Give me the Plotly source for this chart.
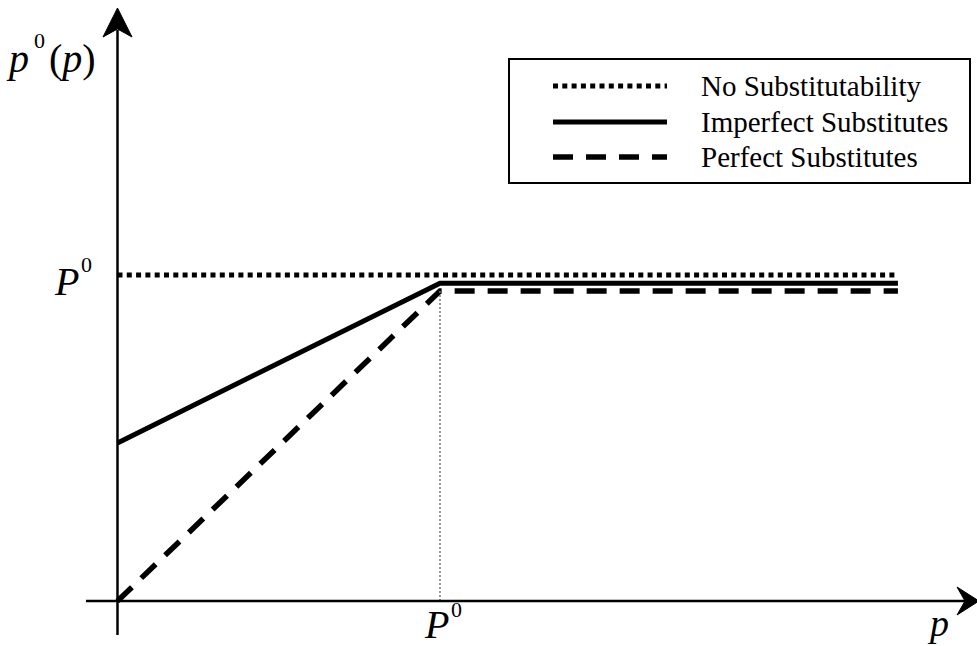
import plotly.graph_objects as go

# ---- data ----
series_names = ["No Substitutability", "Imperfect Substitutes", "Perfect Substitutes"]
no_sub_x = [0.0, 2.42]
no_sub_y = [1.0, 1.0]
imperfect_x = [0.0, 1.0, 2.42]
imperfect_y = [0.485, 0.975, 0.975]
perfect_x = [0.0, 1.0, 2.42]
perfect_y = [0.0, 0.951, 0.951]
p0_x = 1.0  # P^0 on the p axis

W, H = 977, 646
X_RANGE = [-0.3643, 2.6652]
Y_RANGE = [-0.1380, 1.8436]

FONT = "Liberation Serif, Times New Roman, serif"

def PX(px):  # pixel -> paper x
    return px / W

def PY(py):  # pixel -> paper y
    return 1 - py / H

fig = go.Figure()
fig.add_trace(go.Scatter(x=no_sub_x, y=no_sub_y, mode="lines", name=series_names[0],
                         line=dict(color="black", width=5, dash="5px,4.3px")))
fig.add_trace(go.Scatter(x=imperfect_x, y=imperfect_y, mode="lines", name=series_names[1],
                         line=dict(color="black", width=5)))
fig.add_trace(go.Scatter(x=perfect_x, y=perfect_y, mode="lines", name=series_names[2],
                         line=dict(color="black", width=5.5, dash="20px,13px")))

shapes = []
# vertical guide at P0
shapes.append(dict(type="line", xref="x", yref="y", x0=p0_x, x1=p0_x, y0=0, y1=perfect_y[1],
                   line=dict(color="#777777", width=1.5, dash="2px,2px")))
# axes
shapes.append(dict(type="line", xref="x", yref="paper", x0=0, x1=0, y0=PY(635), y1=PY(30),
                   line=dict(color="black", width=2.5)))
shapes.append(dict(type="line", xref="paper", yref="y", x0=PX(86), x1=PX(968), y0=0, y1=0,
                   line=dict(color="black", width=2.5)))
# arrow heads
up = [(117.5, 8), (103, 37), (117.5, 29), (132, 37)]
right = [(979, 601), (957, 587), (965, 601), (957, 615)]
for pts in (up, right):
    path = "M " + " L ".join(f"{PX(a):.5f},{PY(b):.5f}" for a, b in pts) + " Z"
    shapes.append(dict(type="path", xref="paper", yref="paper", path=path,
                       fillcolor="black", line=dict(color="black", width=1)))
# legend box
shapes.append(dict(type="rect", xref="paper", yref="paper", x0=PX(509), x1=PX(970),
                   y0=PY(183), y1=PY(59), line=dict(color="black", width=2), fillcolor="white",
                   layer="below"))
legend_rows = [86, 122, 157]
legend_styles = [dict(width=5, dash="5px,4.3px"), dict(width=5), dict(width=5.5, dash="20px,13px")]
for row, st in zip(legend_rows, legend_styles):
    shapes.append(dict(type="line", xref="paper", yref="paper", x0=PX(553), x1=PX(667),
                       y0=PY(row), y1=PY(row), line=dict(color="black", **st)))

annotations = []
for row, name in zip(legend_rows, series_names):
    annotations.append(dict(xref="paper", yref="paper", x=PX(699), y=PY(row), text=name,
                            showarrow=False, xanchor="left", yanchor="middle",
                            font=dict(family=FONT, size=29, color="black")))

def label(px, py, text, size, anchor="left"):
    annotations.append(dict(xref="paper", yref="paper", x=PX(px), y=PY(py), text=text,
                            showarrow=False, xanchor=anchor, yanchor="middle", borderpad=0,
                            font=dict(family=FONT, size=size, color="black")))

# y-axis title p^0(p)
label(5, 58, "<i>p</i>", 40)
label(33, 40, "0", 22)
label(48, 58, "(<i>p</i>)", 40)
# P^0 on y axis
label(53, 281, "<i>P</i>", 40)
label(80, 264, "0", 22)
# P^0 on x axis
label(423, 624, "<i>P</i>", 40)
label(450, 609, "0", 22)
# p on x axis
label(926, 623, "<i>p</i>", 38)

fig.update_layout(
    width=W, height=H, margin=dict(l=0, r=0, t=0, b=0),
    paper_bgcolor="white", plot_bgcolor="white", showlegend=False,
    xaxis=dict(range=X_RANGE, visible=False, fixedrange=True),
    yaxis=dict(range=Y_RANGE, visible=False, fixedrange=True),
    shapes=shapes, annotations=annotations,
)

fig.write_html("out.html", config={"displayModeBar": False},
               post_script="document.body.style.margin='0';document.body.style.overflow='hidden';")
